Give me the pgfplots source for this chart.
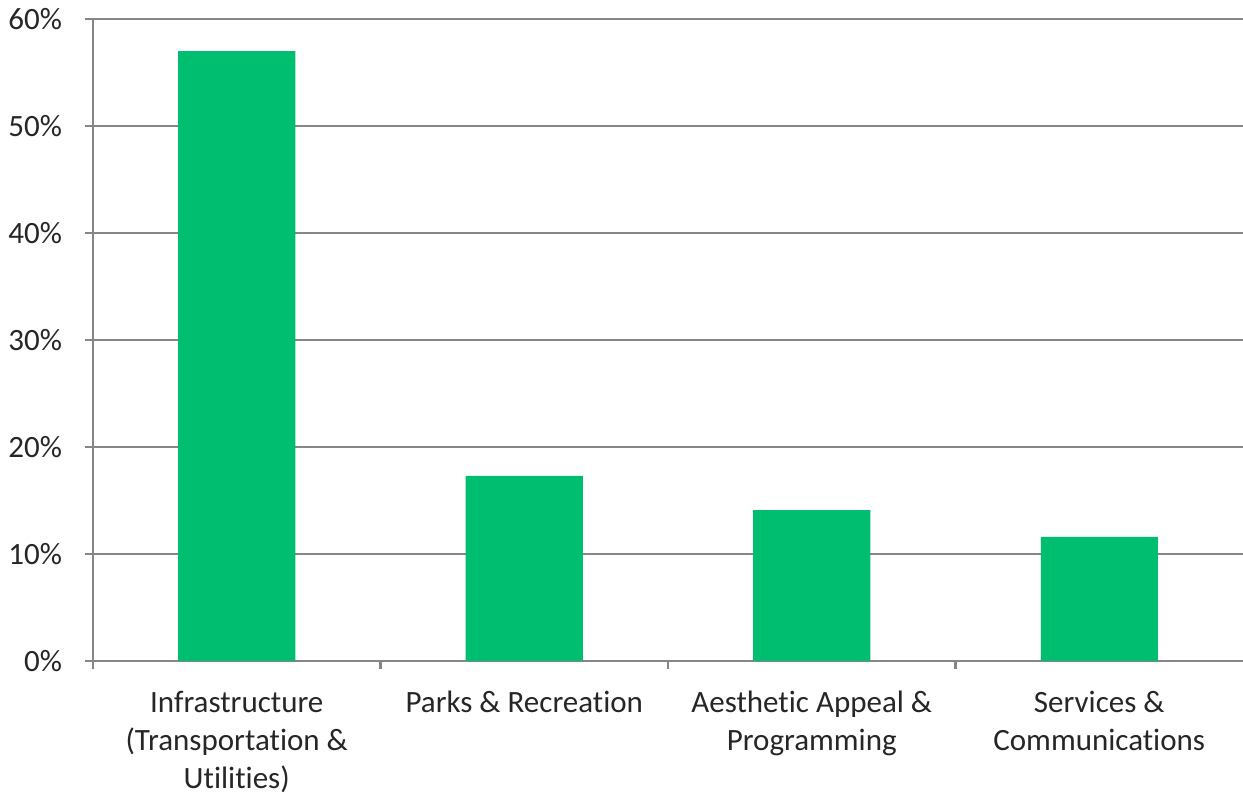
\documentclass[border=0pt]{standalone}
\usepackage{pgfplots}
\pgfplotsset{compat=1.18}
\usepackage{fontspec}
\setmainfont{Carlito}[RawFeature={-liga}]
\definecolor{bargreen}{RGB}{0,190,112}
\definecolor{axgray}{RGB}{134,134,134}
\definecolor{txt}{RGB}{38,38,38}
\begin{document}
\begin{tikzpicture}[x=1pt,y=1pt]
\begin{axis}[
  scale only axis,
  width=575pt, height=321pt,
  xmin=-0.5, xmax=3.5,
  ymin=0, ymax=60,
  axis x line*=bottom,
  axis y line*=left,
  axis line style={draw=axgray, line width=1.1pt},
  ymajorgrids,
  grid style={draw=axgray, line width=1.1pt},
  ytick={0,10,20,30,40,50,60},
  yticklabels={0\%,10\%,20\%,30\%,40\%,50\%,60\%},
  xtick={0,1,2,3},
  xticklabels={{Infrastructure\\(Transportation \&\\Utilities)},{Parks \& Recreation},{Aesthetic Appeal \&\\Programming},{Services \&\\Communications}},
  minor xtick={-0.5,0.5,1.5,2.5},
  major x tick style={draw=none},
  minor x tick style={draw=axgray, line width=1.1pt},
  ytick style={draw=axgray, line width=1.1pt},
  tick align=outside,
  major tick length=4pt,
  minor tick length=4pt,
  tick label style={font=\fontsize{15.5pt}{19pt}\selectfont, text=txt},
  xticklabel style={align=center, anchor=north, yshift=-7.5pt},
  yticklabel style={xshift=-8pt},
  clip=false,
]
\addplot[ybar, bar width=0.407, fill=bargreen, draw=none] coordinates {(0,57) (1,17.3) (2,14.1) (3,11.6)};
\coordinate (sw) at (rel axis cs:0,0);
\coordinate (ne) at (rel axis cs:1,1);
\end{axis}
\pgfresetboundingbox
\path[use as bounding box] ([xshift=-46.5pt,yshift=-65.5pt]sw) rectangle ([yshift=9.5pt]ne);
\end{tikzpicture}
\end{document}
